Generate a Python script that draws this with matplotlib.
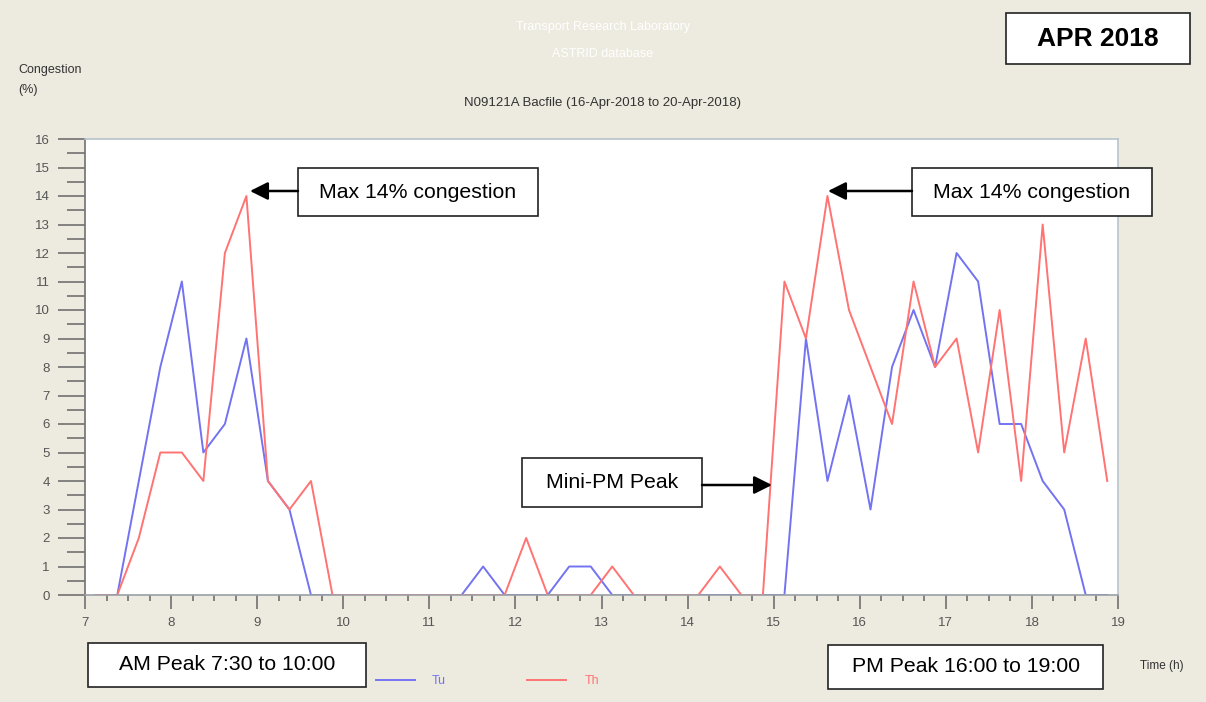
import matplotlib.pyplot as plt
import numpy as np
from matplotlib.lines import Line2D
from matplotlib.patches import FancyArrowPatch, Rectangle

W, H = 1206, 702

# 15-minute intervals, plotted at the middle of each interval
times = 7.125 + 0.25 * np.arange(48)

tu = [0, 0, 4, 8, 11, 5, 6, 9, 4, 3, 0, 0,
      0, 0, 0, 0, 0, 0, 1, 0, 0, 0, 1, 1,
      0, 0, 0, 0, 0, 0, 0, 0, 0, 9, 4, 7,
      3, 8, 10, 8, 12, 11, 6, 6, 4, 3, 0, 0]

th = [0, 0, 2, 5, 5, 4, 12, 14, 4, 3, 4, 0,
      0, 0, 0, 0, 0, 0, 0, 0, 2, 0, 0, 0,
      1, 0, 0, 0, 0, 1, 0, 0, 11, 9, 14, 10,
      8, 6, 11, 8, 9, 5, 10, 4, 13, 5, 9, 4]

x_ticks = list(range(7, 20))
y_ticks = list(range(0, 17))

BG = "#edeadf"
BLUE = "#7373f2"
RED = "#ff7373"
TICK_COLOR = "#555555"
SMALL = "Liberation Sans"


def fx(x):
    return x / W


def fy(y):
    return 1 - y / H


def text_box(fig, x0, y0, x1, y1, label, **kw):
    rect = Rectangle((fx(x0), fy(y1)), fx(x1) - fx(x0), fy(y0) - fy(y1),
                     transform=fig.transFigure, facecolor="white",
                     edgecolor="#222222", linewidth=1.2, zorder=5)
    fig.add_artist(rect)
    fig.text(fx((x0 + x1) / 2), fy((y0 + y1) / 2), label, ha="center",
             va="center", family="Liberation Sans", zorder=6, **kw)


def arrow(fig, x_from, y_from, x_to, y_to):
    fig.add_artist(FancyArrowPatch(
        (fx(x_from), fy(y_from)), (fx(x_to), fy(y_to)),
        transform=fig.transFigure,
        arrowstyle="-|>,head_length=0.9,head_width=0.45",
        mutation_scale=12, color="black", linewidth=1.8,
        shrinkA=0, shrinkB=0, zorder=6))


def main():
    fig = plt.figure(figsize=(W / 100, H / 100), dpi=100, facecolor=BG)

    ax = fig.add_axes([fx(85), fy(595), fx(1118) - fx(85), fy(139) - fy(595)])
    ax.set_facecolor("white")
    ax.plot(times, tu, color=BLUE, linewidth=1.4)
    ax.plot(times, th, color=RED, linewidth=1.4)

    ax.set_xlim(7, 19)
    ax.set_ylim(0, 16)
    ax.set_xticks(x_ticks)
    ax.set_xticks(np.arange(7, 19.01, 0.25), minor=True)
    ax.set_yticks(y_ticks)
    ax.set_yticks(np.arange(0, 16.01, 0.5), minor=True)
    ax.tick_params(axis="x", which="major", length=10, width=1.1, color="#666666",
                   labelsize=9.5, labelcolor=TICK_COLOR, pad=6)
    ax.tick_params(axis="x", which="minor", length=4.3, width=1.1, color="#666666")
    ax.tick_params(axis="y", which="major", length=19.5, width=1.1, color="#666666",
                   labelsize=9.5, labelcolor=TICK_COLOR, pad=6)
    ax.tick_params(axis="y", which="minor", length=13, width=1.1, color="#666666")
    for lbl in ax.get_xticklabels() + ax.get_yticklabels():
        lbl.set_family(SMALL)
    for side in ["top", "right"]:
        ax.spines[side].set_color("#b8c4cc")
    ax.spines["left"].set_color("#707070")
    ax.spines["bottom"].set_color("#9aa0a6")
    for spine in ax.spines.values():
        spine.set_linewidth(1.2)

    # header texts
    fig.text(fx(603), fy(27), "Transport Research Laboratory", color="white",
             ha="center", va="center", fontsize=9, family=SMALL)
    fig.text(fx(603), fy(54), "ASTRID database", color="white",
             ha="center", va="center", fontsize=9, family=SMALL)
    fig.text(fx(603), fy(103), "N09121A Bacfile (16-Apr-2018 to 20-Apr-2018)",
             color="#333333", ha="center", va="center", fontsize=9.5, family=SMALL)
    fig.text(fx(18), fy(70), "Congestion", color="#333333", ha="left",
             va="center", fontsize=9, family=SMALL)
    fig.text(fx(18), fy(90), "(%)", color="#333333", ha="left",
             va="center", fontsize=9, family=SMALL)
    fig.text(fx(1140), fy(666), "Time (h)", color="#333333", ha="left",
             va="center", fontsize=8.5, family=SMALL)

    # legend
    fig.add_artist(Line2D([fx(376), fx(415)], [fy(680), fy(680)], color=BLUE,
                          linewidth=1.4, transform=fig.transFigure))
    fig.text(fx(432), fy(681), "Tu", color=BLUE, ha="left", va="center",
             fontsize=9, family=SMALL)
    fig.add_artist(Line2D([fx(527), fx(566)], [fy(680), fy(680)], color=RED,
                          linewidth=1.4, transform=fig.transFigure))
    fig.text(fx(585), fy(681), "Th", color=RED, ha="left", va="center",
             fontsize=9, family=SMALL)

    # annotation boxes
    text_box(fig, 1006, 13, 1190, 64, "APR 2018", fontsize=19, fontweight="bold")
    text_box(fig, 298, 168, 538, 216, "Max 14% congestion", fontsize=15.3)
    text_box(fig, 912, 168, 1152, 216, "Max 14% congestion", fontsize=15.3)
    text_box(fig, 522, 458, 702, 507, "Mini-PM Peak", fontsize=15.3)
    text_box(fig, 88, 643, 366, 687, "AM Peak 7:30 to 10:00", fontsize=15.3)
    text_box(fig, 828, 645, 1103, 689, "PM Peak 16:00 to 19:00", fontsize=15.3)

    arrow(fig, 298, 191, 250, 191)
    arrow(fig, 912, 191, 828, 191)
    arrow(fig, 702, 485, 772, 485)

    fig.savefig("out.png", dpi=100, facecolor=BG)
    plt.close(fig)


if __name__ == "__main__":
    main()
